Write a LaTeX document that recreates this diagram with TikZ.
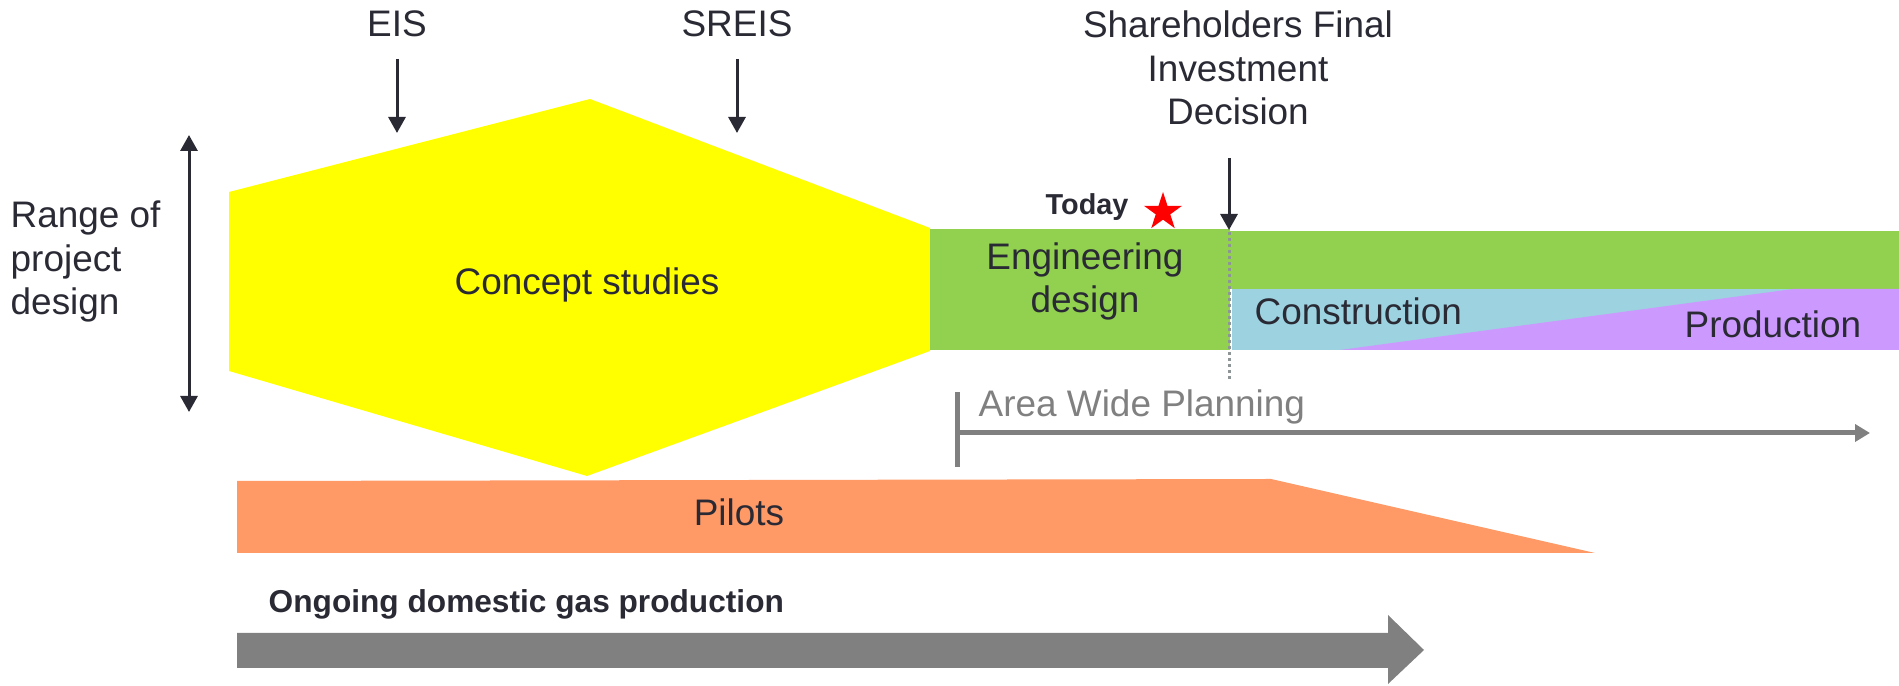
\documentclass[tikz,border=0pt]{standalone}
\usepackage{fontspec}
\setmainfont{Liberation Sans}
\usetikzlibrary{arrows.meta,shapes.geometric}
\definecolor{txt}{HTML}{2A2A35}
\definecolor{cyellow}{HTML}{FFFF00}
\definecolor{cgreen}{HTML}{92D050}
\definecolor{cblue}{HTML}{9DD3E0}
\definecolor{cpurple}{HTML}{CC99FF}
\definecolor{corange}{HTML}{FF9966}
\definecolor{cgray}{HTML}{808080}
\definecolor{cdot}{HTML}{8E9596}
\tikzset{
  lbl/.style={font=\fontsize{10.5pt}{12.5pt}\selectfont, text=txt, inner sep=0pt, anchor=base},
  mlbl/.style={lbl, align=center},
  boldlbl/.style={font=\fontsize{9pt}{11pt}\selectfont\bfseries, text=txt, inner sep=0pt, anchor=base west},
  blkarrow/.style={draw=txt, line width=0.03cm, -{Triangle[length=0.16cm,width=0.17cm]}},
  dblarrow/.style={draw=txt, line width=0.03cm, {Triangle[length=0.16cm,width=0.17cm]}-{Triangle[length=0.16cm,width=0.17cm]}},
  grayarrow/.style={draw=cgray, line width=0.05cm, -{Triangle[length=0.15cm,width=0.17cm]}},
}
\begin{document}
\begin{tikzpicture}[x=0.01cm,y=-0.01cm]
\useasboundingbox (0,0) rectangle (1899,686);
% shapes
\fill[cyellow] (229,192) -- (590,99) -- (930,228) -- (930,351) -- (587,476) -- (229,371) -- cycle;
\fill[cgreen] (930,229) rectangle (1230,350);
\fill[cgreen] (1230,231) rectangle (1899,289);
\fill[cblue] (1232,289) rectangle (1899,350);
\fill[cpurple] (1340,350) -- (1793,289) -- (1899,289) -- (1899,350) -- cycle;
\fill[corange] (237,481) -- (1271,479) -- (1595,553) -- (237,553) -- cycle;
\fill[cgray] (237,633) -- (1388,633) -- (1388,615) -- (1424,650) -- (1388,684) -- (1388,668) -- (237,668) -- cycle;
% labels
\node[lbl] (eis) at (397,37) {EIS};
\node[lbl] (sreis) at (737,37) {SREIS};
\node[mlbl] (fid) at (1238,125) {Shareholders Final\\Investment\\Decision};
\node[lbl, align=left, anchor=base west] (range) at (10,315) {Range of\\project\\design};
\node[lbl] (concept) at (587,295) {Concept studies};
\node[mlbl] (eng) at (1085,313) {Engineering\\design};
\node[lbl, anchor=base west] (constr) at (1254,325) {Construction};
\node[lbl, anchor=base west] (prod) at (1684,338) {Production};
\node[lbl, anchor=base west, text=cgray] (awp) at (978,417) {Area Wide Planning};
\node[lbl] (pilots) at (739,526) {Pilots};
\node[boldlbl] (ongoing) at (268,613) {Ongoing domestic gas production};
\node[boldlbl, font=\fontsize{8.2pt}{10pt}\selectfont\bfseries] (today) at (1045,215) {Today};
\node[star, star points=5, star point ratio=2.618, fill=red, inner sep=0pt, minimum size=0.4cm] (star) at (1163,212) {};
% connectors
\coordinate (eisS) at (397,59); \coordinate (eisE) at (397,133);
\draw[blkarrow] (eisS) -- (eisE);
\coordinate (sreisS) at (737,59); \coordinate (sreisE) at (737,133);
\draw[blkarrow] (sreisS) -- (sreisE);
\coordinate (fidS) at (1229,158); \coordinate (fidE) at (1229,230);
\draw[blkarrow] (fidS) -- (fidE);
\coordinate (rangeT) at (189,135); \coordinate (rangeB) at (189,412);
\draw[dblarrow] (rangeT) -- (rangeB);
\coordinate (dotT) at (1229,232); \coordinate (dotB) at (1229,379);
\draw[cdot, line width=0.03cm, dash pattern=on 0.03cm off 0.03cm] (dotT) -- (dotB);
\coordinate (awpT) at (957,392); \coordinate (awpB) at (957,467);
\coordinate (awpM) at (957,433); \coordinate (awpE) at (1870,433);
\draw[cgray, line width=0.05cm] (awpT) -- (awpB);
\draw[grayarrow] (awpM) -- (awpE);
\end{tikzpicture}
\end{document}
